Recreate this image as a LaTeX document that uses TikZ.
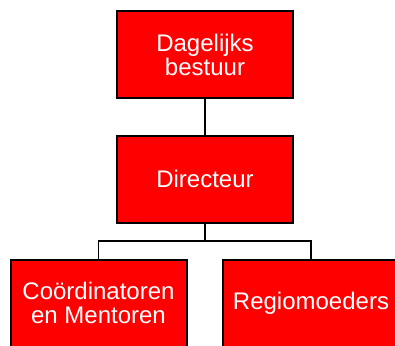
\documentclass[tikz,border=0pt]{standalone}
\usepackage{fontspec}
\setmainfont{Liberation Sans}
\usetikzlibrary{positioning}

\begin{document}
\begin{tikzpicture}[x=1pt,y=-1pt,
  box/.style={draw=black,line width=2pt,fill=boxRed,text=white,minimum width=176pt,minimum height=87pt,align=center,inner sep=0pt,font=\fontsize{24}{24}\selectfont},
  link/.style={line width=1.5pt}]
\definecolor{boxRed}{RGB}{255,0,0}
\useasboundingbox (0,0) rectangle (395,345);
\node[box] (bestuur) at (205,54.5) {Dagelijks\\bestuur};
\node[box] (directeur) at (205,179) {Directeur};
\node[box] (coord) at (98.5,303) {Coördinatoren\\en Mentoren};
\node[box] (regio) at (311,303) {Regiomoeders};
\draw[link] (bestuur) -- (directeur);
\coordinate (split) at (205,241);
\draw[link] (directeur) -- (split);
\draw[link] (coord.north) |- (split) -| (regio.north);
\end{tikzpicture}
\end{document}
